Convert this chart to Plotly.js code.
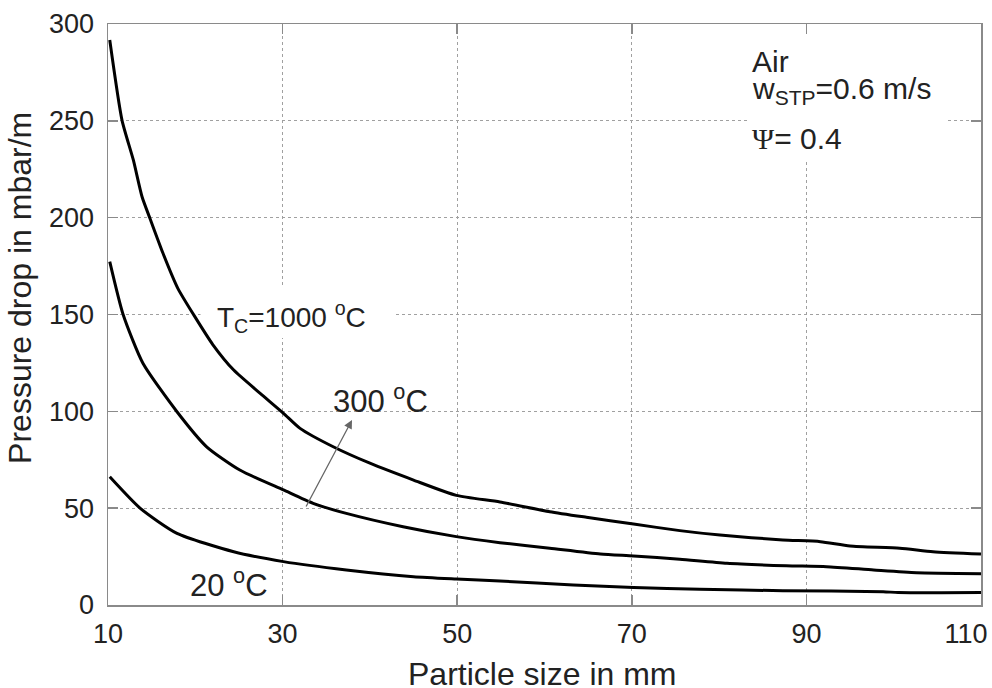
<!DOCTYPE html>
<html>
<head>
<meta charset="utf-8">
<script src="https://cdn.plot.ly/plotly-3.0.1.min.js"></script>
<style>html,body{margin:0;padding:0;background:#fff;}#chart{width:992px;height:688px;}</style>
</head>
<body>
<div id="chart"></div>
<script>
// Particle size in mm
const xT1000 = [10.2, 11.6, 12.9, 13.9, 14.8, 16.3, 18.0, 20.0, 22.0, 24.4, 27.4, 30.1, 32.0, 35.8, 40.0, 45.0, 49.9, 54.9, 60.6, 64.8, 70.2, 75.5, 80.1, 87.3, 91.6, 95.0, 100.7, 104.5, 110];
const yT1000 = [291.7, 250.4, 229.8, 210.8, 199.7, 181.6, 163.5, 148.5, 134.5, 121.3, 109.4, 99.0, 91.2, 81.7, 73.2, 64.5, 56.6, 53.2, 48.2, 45.3, 41.8, 38.4, 36.1, 33.6, 32.7, 30.5, 29.3, 27.5, 26.3];

const xT300 = [10.2, 11.75, 14.0, 17.9, 21.3, 25.1, 30.1, 33.5, 37.3, 43.8, 49.9, 54.9, 60.6, 66.4, 70.2, 75.5, 80.9, 87.7, 92.3, 97.7, 102.6, 110];
const yT300 = [177.3, 149.7, 124.8, 99.8, 81.7, 69.7, 59.4, 52.5, 47.3, 40.4, 35.3, 32.2, 29.3, 26.3, 25.3, 23.6, 21.5, 20.3, 19.8, 18.1, 16.7, 16.2];

const xT20 = [10.2, 13.7, 17.9, 24.4, 30.1, 37.3, 45.0, 49.9, 54.9, 63.3, 70.2, 77.8, 87.3, 98.8, 100.5, 110];
const yT20 = [66.2, 49.9, 37.0, 27.5, 22.4, 18.1, 14.6, 13.4, 12.4, 10.3, 9.1, 8.1, 7.4, 6.9, 6.4, 6.4];

const xTicks = [10, 30, 50, 70, 90, 110];
const xTickText = ['10', '30', '50', '70', '90', '110&nbsp;&nbsp;&nbsp;&nbsp;'];
const yTicks = [0, 50, 100, 150, 200, 250, 300];

const FONT = 'Liberation Sans, Arial, Helvetica, sans-serif';
const lineStyle = {color: '#000', width: 3, shape: 'spline', smoothing: 0.6};

const traces = [
  {x: xT1000, y: yT1000, mode: 'lines', line: lineStyle, name: '1000 °C', hoverinfo: 'skip'},
  {x: xT300, y: yT300, mode: 'lines', line: lineStyle, name: '300 °C', hoverinfo: 'skip'},
  {x: xT20, y: yT20, mode: 'lines', line: lineStyle, name: '20 °C', hoverinfo: 'skip'}
];

const axisCommon = {
  showline: true, linecolor: '#8a8a8a', linewidth: 1.5, mirror: 'ticks',
  ticks: 'inside', ticklen: 10, tickcolor: '#8a8a8a', tickwidth: 1.5,
  showgrid: true, gridcolor: '#a0a0a0', griddash: 'dot', gridwidth: 1,
  zeroline: false, tickfont: {family: FONT, size: 27, color: '#222'}
};

const layout = {
  width: 992, height: 688,
  margin: {l: 108, r: 11, t: 24, b: 83},
  paper_bgcolor: '#fff', plot_bgcolor: '#fff',
  showlegend: false,
  font: {family: FONT, color: '#222'},
  xaxis: Object.assign({}, axisCommon, {
    range: [10, 110], tickvals: xTicks, ticktext: xTickText,
    ticklabelstandoff: 4, ticklabeloverflow: 'allow'
  }),
  yaxis: Object.assign({}, axisCommon, {
    range: [0, 300], tickvals: yTicks, ticktext: yTicks.map(String),
    ticklabelstandoff: 7,
    title: {text: '&nbsp;&nbsp;&nbsp;&nbsp;&nbsp;&nbsp;Pressure drop in mbar/m', font: {family: FONT, size: 32, color: '#222'}, standoff: 8}
  }),
  shapes: [
    {type: 'rect', xref: 'x', yref: 'y', x0: 83.5, x1: 106.1, y0: 229.8, y1: 295.3,
     fillcolor: '#fff', line: {width: 0}, layer: 'between'},
    {type: 'rect', xref: 'x', yref: 'y', x0: 20.6, x1: 42.9, y0: 137.9, y1: 165.2,
     fillcolor: '#fff', line: {width: 0}, layer: 'between'}
  ],
  annotations: [
    {x: 0.4977, y: -0.1195, xref: 'paper', yref: 'paper', xanchor: 'center', yanchor: 'middle', showarrow: false,
     text: 'Particle size in mm', font: {family: FONT, size: 32, color: '#222'}},
    {x: 83.5, y: 280.4, xref: 'x', yref: 'y', xanchor: 'left', yanchor: 'middle', showarrow: false,
     text: 'Air', font: {family: FONT, size: 30, color: '#222'}},
    {x: 83.5, y: 265.5, xref: 'x', yref: 'y', xanchor: 'left', yanchor: 'middle', showarrow: false,
     text: 'w<sub>STP</sub>=0.6 m/s', font: {family: FONT, size: 30, color: '#222'}},
    {x: 83.5, y: 241.1, xref: 'x', yref: 'y', xanchor: 'left', yanchor: 'middle', showarrow: false,
     text: '<span style="font-family:Liberation Serif, Times New Roman, serif">Ψ</span>= 0.4', font: {family: FONT, size: 30, color: '#222'}},
    {x: 22.3, y: 148.7, xref: 'x', yref: 'y', xanchor: 'left', yanchor: 'middle', showarrow: false,
     text: 'T<sub>C</sub>=1000 <sup>o</sup>C', font: {family: FONT, size: 28, color: '#222'}},
    {x: 35.5, y: 106.5, xref: 'x', yref: 'y', xanchor: 'left', yanchor: 'middle', showarrow: false,
     text: '300 <sup>o</sup>C', font: {family: FONT, size: 31, color: '#222'}},
    {x: 19.2, y: 11.5, xref: 'x', yref: 'y', xanchor: 'left', yanchor: 'middle', showarrow: false,
     text: '20 <sup>o</sup>C', font: {family: FONT, size: 31, color: '#222'}},
    {x: 37.95, y: 95.5, ax: 32.6, ay: 50.1, xref: 'x', yref: 'y', axref: 'x', ayref: 'y',
     text: '', showarrow: true, arrowhead: 2, arrowsize: 1.3, arrowwidth: 1.3, arrowcolor: '#666'}
  ]
};

Plotly.newPlot('chart', traces, layout, {staticPlot: true, displayModeBar: false});
</script>
</body>
</html>
